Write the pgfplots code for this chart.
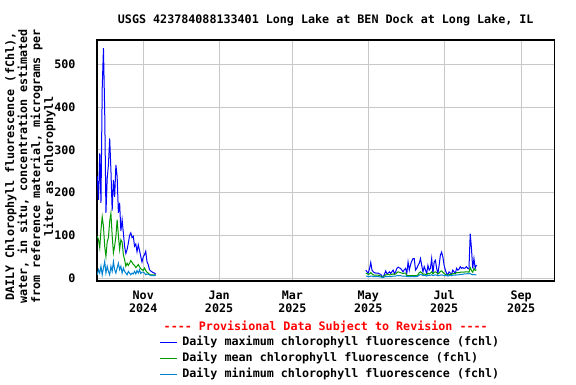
\documentclass[border=0pt]{standalone}
\usepackage{fontspec}
\setmonofont{DejaVu Sans Mono}
\usepackage{pgfplots}
\usepackage{pgfplotstable}
\pgfplotsset{compat=1.18}
\newcommand\cf{\ttfamily\bfseries\fontsize{11.7}{13}\selectfont}
\definecolor{maxc}{RGB}{0,0,255}
\definecolor{meanc}{RGB}{0,155,0}
\definecolor{minc}{RGB}{0,130,210}
\definecolor{gridc}{RGB}{200,200,200}

\pgfplotstableread{
day max mean min
-37 238 98 8
-36 183 90 20
-35 292 71 12
-34 176 113 28
-33 444 144 8
-32 538 121 24
-31 390 74 39
-30 153 51 12
-29 233 85 28
-28 265 95 16
-27 327 133 8
-26 253 152 28
-25 158 100 16
-24 230 59 39
-23 190 75 20
-22 265 98 12
-21 238 137 24
-20 153 100 35
-19 176 67 20
-18 110 90 28
-17 137 85 12
-16 106 55 24
-15 74 43 16
-14 58 28 12
-13 67 35 8
-12 82 30 16
-11 100 35 12
-10 106 41 8
-9 95 37 12
-8 98 32 10
-7 75 30 16
-6 80 25 10
-5 62 28 18
-4 78 32 12
-3 65 27 20
-2 51 22 11
-1 38 20 14
0 50 18 14
1 55 24 12
2 63 18 8
3 39 14 10
4 32 12 9
5 20 9 8
6 17 8 7
7 15 8 6
8 13 8 6
9 12 8 6
10 9 7 6
nan nan nan nan
179 19 12 5
180 15 11 5
181 12 9 4
182 22 10 4
183 37 13 5
184 19 10 5
185 15 8 4
186 13 7 4
187 12 7 4
188 12 7 4
189 12 7 4
190 10 6 3
191 9 5 3
192 5 3 2
193 3 3 2
194 9 6 3
195 17 8 4
196 11 8 4
197 12 9 4
198 15 8 4
199 11 8 4
200 15 9 4
201 19 10 5
202 11 9 5
203 15 10 5
204 23 13 6
205 26 15 6
206 24 14 6
207 23 13 6
208 19 12 5
209 15 11 5
210 20 12 5
211 23 12 5
212 11 6 4
213 38 6 4
214 19 6 4
215 32 6 4
216 40 6 4
217 46 6 4
218 46 6 4
219 19 6 4
220 23 6 4
221 30 8 5
222 35 13 7
223 46 15 9
224 30 13 8
225 15 9 6
226 27 10 7
227 19 9 6
228 11 8 5
229 30 12 7
230 19 10 6
231 23 12 7
232 46 15 8
233 11 10 6
234 38 14 7
235 42 15 8
236 23 13 7
237 11 10 6
238 30 12 6
239 54 16 7
240 61 17 8
241 50 14 7
242 30 11 6
243 19 9 6
244 11 8 6
245 8 7 5
246 15 8 6
247 12 9 6
248 9 9 6
249 19 11 7
250 15 11 7
251 11 11 7
252 23 13 8
253 19 13 8
254 21 13 8
255 27 14 9
256 23 14 9
257 25 14 9
258 23 14 10
259 24 15 10
260 27 15 10
261 23 15 11
262 22 14 10
263 104 25 11
264 70 18 9
265 23 14 8
266 46 23 9
267 23 18 8
268 31 20 8
}\datatab

\begin{document}
\begin{tikzpicture}
\path[use as bounding box] (0,0) rectangle (576pt,384pt);
\begin{axis}[
  at={(97pt,103pt)}, anchor=south west,
  scale only axis, width=457.5pt, height=241pt,
  xmin=-37.2, xmax=330.8, ymin=-6.5, ymax=557,
  clip mode=individual,
  xtick={0,61,120,181,242,304},
  xticklabels={{Nov\\2024},{Jan\\2025},{Mar\\2025},{May\\2025},{Jul\\2025},{Sep\\2025}},
  ytick={0,100,200,300,400,500},
  grid=major,
  major grid style={gridc, line width=1pt},
  major tick length=0pt,
  axis line style={black, line width=1.3pt},
  tick label style={font=\cf},
  /pgf/number format/assume math mode=true,
  xticklabel style={align=center, yshift=-6pt},
  yticklabel style={xshift=-18pt},
  ylabel={DAILY Chlorophyll fluorescence (fChl),\\water, in situ, concentration estimated\\from reference material, micrograms per\\liter as chlorophyll},
  ylabel style={font=\cf, align=center, at={(axis description cs:-0.1454,0.475)}, anchor=center},
  title={USGS 423784088133401 Long Lake at BEN Dock at Long Lake, IL},
  title style={font=\cf, yshift=5pt},
  unbounded coords=jump,
  legend style={at={(axis description cs:0.136,-0.232)}, anchor=north west,
    draw=none, fill=none, inner sep=0pt, row sep=6pt, column sep=4.5pt, font=\cf,
    nodes={inner sep=0pt, text height=8pt, text depth=2pt}},
  legend cell align=left,
  legend image code/.code={\draw[#1] (0pt,0pt) -- (17.4pt,0pt);},
]
\addplot[maxc, line width=1pt] table[x=day, y=max] {\datatab};
\addlegendentry{Daily maximum chlorophyll fluorescence (fchl)}
\addplot[meanc, line width=1pt] table[x=day, y=mean] {\datatab};
\addlegendentry{Daily mean chlorophyll fluorescence (fchl)}
\addplot[minc, line width=1pt] table[x=day, y=min] {\datatab};
\addlegendentry{Daily minimum chlorophyll fluorescence (fchl)}
\node[font=\cf, text=red] at (axis description cs:0.5,-0.191) {---- Provisional Data Subject to Revision ----};
\end{axis}
\end{tikzpicture}
\end{document}
